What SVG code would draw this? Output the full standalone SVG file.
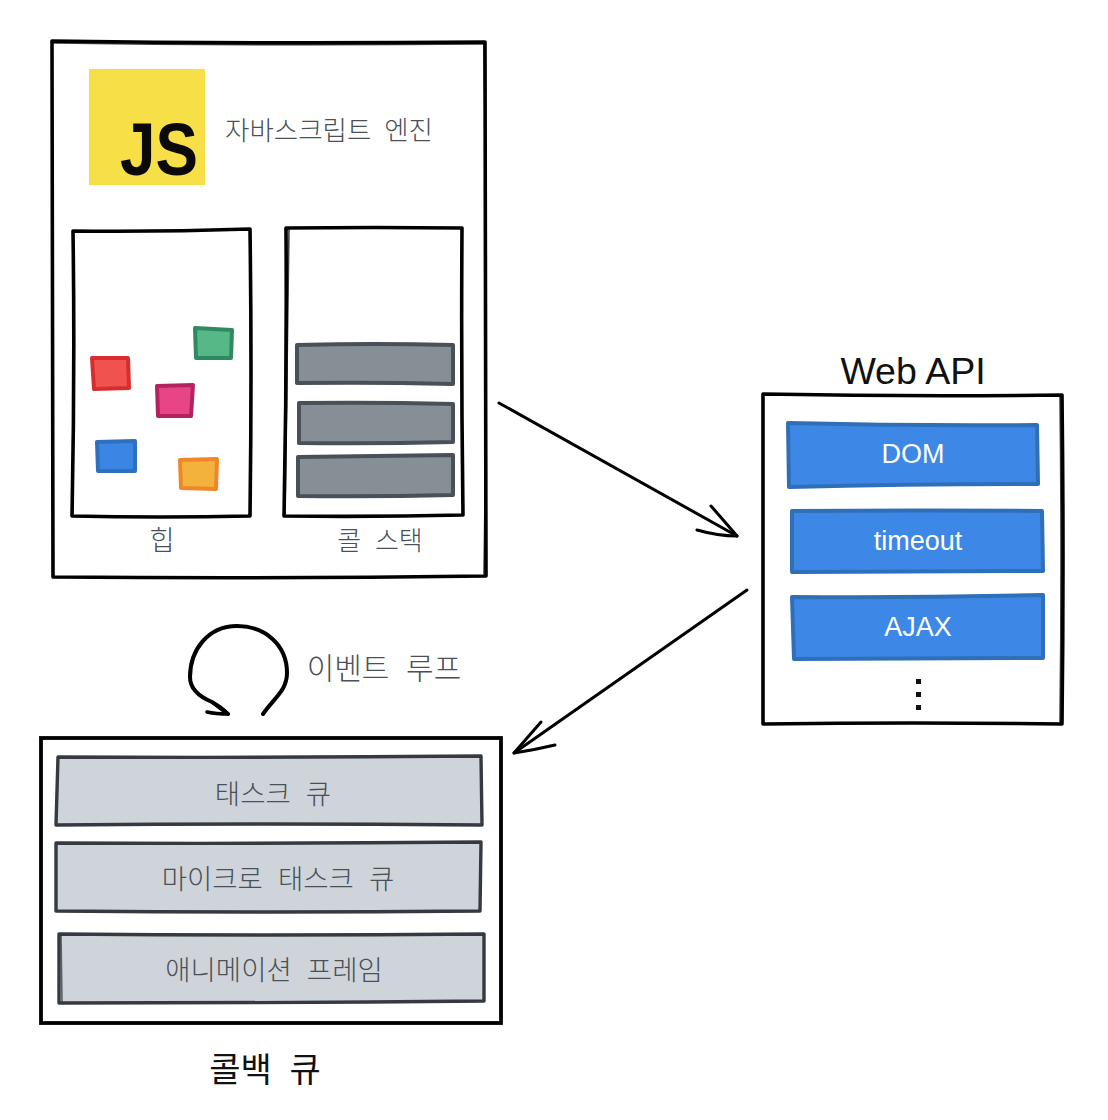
<svg xmlns="http://www.w3.org/2000/svg" width="1108" height="1120" viewBox="0 0 1108 1120">
<style>
text{font-family:"Noto Sans CJK KR","Liberation Sans",sans-serif;text-anchor:middle}
.k{font-size:27.5px;fill:#495057;font-weight:300;word-spacing:9px}
.l{font-family:"Liberation Sans",sans-serif;font-size:27px;fill:#fff}
.frame{fill:none;stroke:#000;stroke-width:3.6;stroke-linecap:round;stroke-linejoin:round}
.thin{fill:none;stroke:#000;stroke-width:1.6;stroke-linecap:round;opacity:.75}
.g{fill:#868e96;stroke:#495057;stroke-width:4;stroke-linejoin:round}
.q{fill:#ced4da;stroke:#343a40;stroke-width:3.4;stroke-linejoin:round}
.b{fill:#3d88e6;stroke:#2f6fb8;stroke-width:4;stroke-linejoin:round}
.s{stroke-width:4;stroke-linejoin:round}
.arrow{fill:none;stroke:#000;stroke-width:3;stroke-linecap:round;stroke-linejoin:round}
</style>
<rect width="1108" height="1120" fill="#fff"/>
<g id="engine">
<path class="frame" d="M52 41 Q268 44 485 42 Q486 300 486 576 Q270 579 53 577 Q52 300 52 41 Z"/>
<path class="thin" d="M54 43 Q270 46 483 44 M484 44 Q488 300 484 574"/>
<rect x="89" y="69" width="116" height="116" fill="#f7df47"/>
<text x="159" y="175" style="font-family:'Liberation Sans',sans-serif;font-weight:700;font-size:74px;fill:#0a0a0a" textLength="78" lengthAdjust="spacingAndGlyphs">JS</text>
<text class="k" x="329" y="140" style="font-size:26.5px;word-spacing:7px">자바스크립트 엔진</text>
</g>
<g id="heap">
<path class="frame" d="M73 231 Q160 232 250 229 Q252 370 250 516 Q160 518 72 516 Q75 370 73 231 Z"/>
<text class="k" x="162" y="550">힙</text>
<path class="s" d="M92 358 L128 358 L129 388 L94 389 Z" fill="#f0524f" stroke="#d92d2d"/>
<path class="s" d="M195 328 L232 330 L231 358 L196 358 Z" fill="#56b787" stroke="#2f8a62"/>
<path class="s" d="M157 386 L193 385 L191 416 L158 416 Z" fill="#e84586" stroke="#b3245f"/>
<path class="s" d="M97 442 L135 441 L135 471 L98 471 Z" fill="#3b86e4" stroke="#2f6fc0"/>
<path class="s" d="M180 460 L217 459 L216 489 L181 488 Z" fill="#f3b23c" stroke="#f0862a"/>
</g>
<g id="callstack">
<path class="frame" d="M286 228 Q375 227 462 228 Q461 370 463 515 Q375 517 284 516 Q287 370 286 228 Z"/>
<path class="thin" d="M289 228 Q287 370 285 514"/>
<path class="g" d="M297 345 Q375 343 453 345 L453 384 Q375 382 297 383 Z"/>
<path class="g" d="M299 403 Q375 402 453 404 L453 442 Q375 444 299 443 Z"/>
<path class="g" d="M298 457 Q375 456 453 455 L453 495 Q375 497 298 496 Z"/>
<text class="k" x="380" y="550" style="font-size:26px;word-spacing:8px">콜 스택</text>
</g>
<g id="webapi">
<text x="913" y="384" style="font-family:'Liberation Sans',sans-serif;font-size:37.5px;fill:#111">Web API</text>
<path class="frame" d="M763 394 Q915 397 1062 395 Q1064 560 1062 724 Q915 722 763 724 Q763 560 763 394 Z"/>
<path class="thin" d="M1060 396 Q1062 560 1060 722"/>
<path class="b" d="M788 423 Q912 426 1037 425 L1038 484 Q912 484 789 487 Z"/>
<text class="l" x="913" y="463">DOM</text>
<path class="b" d="M792 511 Q917 510 1042 511 L1043 571 Q917 572 792 572 Z"/>
<text class="l" x="918" y="550">timeout</text>
<path class="b" d="M792 597 Q917 598 1043 595 L1043 658 Q917 658 794 659 Z"/>
<text class="l" x="918" y="636">AJAX</text>
<rect x="916" y="679" width="5" height="5" fill="#111"/>
<rect x="916" y="692" width="5" height="5" fill="#111"/>
<rect x="916" y="705" width="5" height="5" fill="#111"/>
</g>
<g id="eventloop">
<text class="k" x="384" y="679" style="font-size:30px;word-spacing:10px">이벤트 루프</text>
</g>
<g id="callbackqueue">
<rect x="41" y="738" width="460" height="285" fill="none" stroke="#000" stroke-width="3.8"/>
<path class="q" d="M58 757 Q270 758 481 756 L482 825 Q270 823 56 825 Z"/>
<text class="k" x="273" y="804">태스크 큐</text>
<path class="q" d="M56 843 Q270 844 481 842 L480 911 Q270 913 56 911 Z"/>
<text class="k" x="278" y="889">마이크로 태스크 큐</text>
<path class="q" d="M59 934 Q270 936 484 934 L484 1001 Q270 1003 59 1003 Z"/>
<path class="thin" d="M61 934 L62 1002" style="stroke:#343a40"/>
<text class="k" x="274" y="980">애니메이션 프레임</text>
<text x="265" y="1082" style="font-size:34px;fill:#111;word-spacing:10px">콜백 큐</text>
</g>
<g id="connectors">
<path class="arrow" d="M499 403 L737 536"/>
<path class="arrow" d="M711 506 Q725 522 737 536 M697 530 Q718 536 737 536"/>
<path class="arrow" d="M747 590 L514 753"/>
<path class="arrow" d="M541 722 Q527 738 514 753 M555 745 Q534 750 514 753"/>
<path class="arrow" style="stroke-width:4" d="M263 714 C275 697 287 690 287 673 C287 645 265 626 237 626 C208 626 190 650 190 677 C190 690 200 697 212 702 L228 714"/>
<path class="arrow" style="stroke-width:3.5" d="M212 702 Q222 707 228 714 Q216 714 207 712"/>
</g>
</svg>
